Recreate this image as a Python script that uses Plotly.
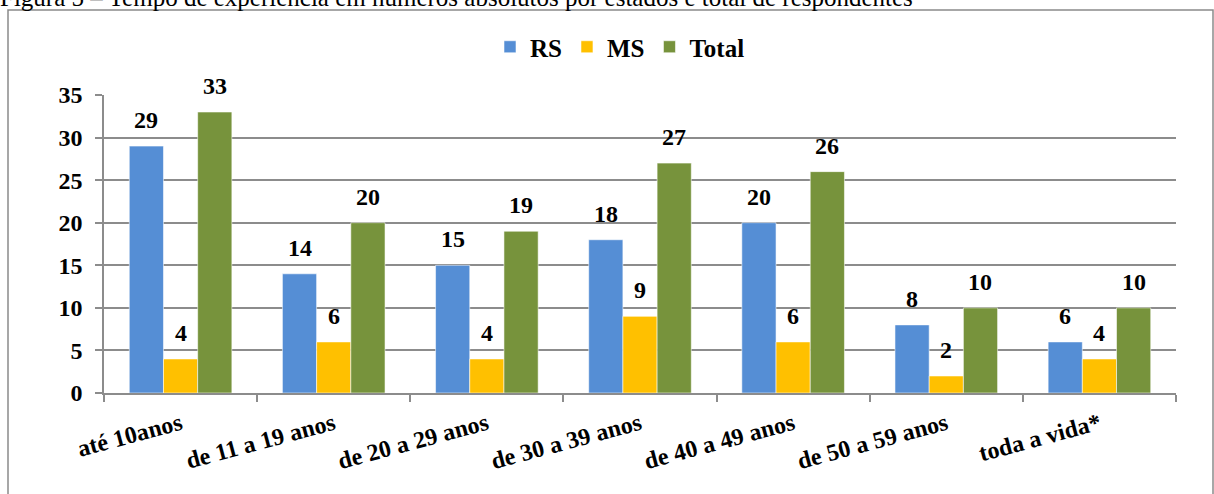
import plotly.graph_objects as go

categories = ["até 10anos", "de 11 a 19 anos", "de 20 a 29 anos", "de 30 a 39 anos",
              "de 40 a 49 anos", "de 50 a 59 anos", "toda a vida*"]
rs = [29, 14, 15, 18, 20, 8, 6]
ms = [4, 6, 4, 9, 6, 2, 4]
total = [33, 20, 19, 27, 26, 10, 10]
series_names = ["RS", "MS", "Total"]
colors = ["#558ED5", "#FFC000", "#77933C"]
title_text = "Figura 5 – Tempo de experiência em números absolutos por estados e total de respondentes"

W, H = 1214, 494
# plot area in page pixels: x 104..1176, y 95..393
ml, mt = 104, 95
mr = W - 1176
mb = H - 393
pw, ph = W - ml - mr, H - mt - mb
BARGAP = 0.33
bar_px = pw / len(categories) * (1 - BARGAP) / 3

FONT = "Liberation Serif"
GRID = "#8c8c8c"

def px(x):
    return (x - ml) / pw

def py(y):
    return (H - mb - y) / ph

fig = go.Figure()
series = [rs, ms, total]
for k, (name, vals, col) in enumerate(zip(series_names, series, colors)):
    fig.add_trace(go.Bar(
        x=categories, y=vals, name="<b>%s</b>" % name,
        marker=dict(color=col, line=dict(color="rgba(255,255,255,0.55)", width=1)),
        cliponaxis=False, hoverinfo="skip",
    ))
    for cat, v in zip(categories, vals):
        fig.add_annotation(x=cat, y=v, xref="x", yref="y", text="<b>%d</b>" % v,
                           xshift=(k - 1) * bar_px, yshift=11, yanchor="bottom",
                           showarrow=False, font=dict(family=FONT, size=24, color="black"))

fig.add_shape(type="rect", xref="paper", yref="paper",
              x0=px(8), x1=px(1213), y0=py(520), y1=py(10),
              line=dict(color="#8a8a8a", width=1.5), fillcolor="rgba(0,0,0,0)", layer="below")

fig.add_annotation(text=title_text, xref="paper", yref="paper", x=px(-2), y=py(13),
                   xanchor="left", yanchor="bottom", showarrow=False,
                   font=dict(family=FONT, size=25, color="black"))

fig.update_layout(
    width=W, height=H,
    margin=dict(l=ml, r=mr, t=mt, b=mb, autoexpand=False),
    paper_bgcolor="white", plot_bgcolor="white",
    barmode="group", bargap=BARGAP, bargroupgap=0,
    showlegend=True,
    legend=dict(orientation="h", x=px(620), y=py(47), xanchor="center", yanchor="middle",
                font=dict(family=FONT, size=25, color="black"),
                itemwidth=30, tracegroupgap=0),
    font=dict(family=FONT, color="black"),
)
fig.update_xaxes(
    type="category", tickson="boundaries", ticks="outside", ticklen=7, tickcolor=GRID,
    tickwidth=1.5, showline=True, linecolor=GRID, linewidth=1.5, showgrid=False,
    tickangle=-15, ticklabelstandoff=6, automargin=False,
    tickvals=categories, ticktext=["<b>%s</b>" % c for c in categories],
    tickfont=dict(family=FONT, size=24, color="black"),
)
fig.update_yaxes(
    range=[0, 35], dtick=5, ticks="outside", ticklen=7, tickcolor=GRID, tickwidth=1.5,
    showline=True, linecolor=GRID, linewidth=1.5, automargin=False,
    showgrid=True, gridcolor=GRID, gridwidth=1.5, zeroline=False,
    tickprefix="<b>", ticksuffix="</b>", ticklabelstandoff=8,
    tickfont=dict(family=FONT, size=24, color="black"),
)

fig.write_html("out.html", config={"displayModeBar": False},
               post_script="document.body.style.margin='0px';")
